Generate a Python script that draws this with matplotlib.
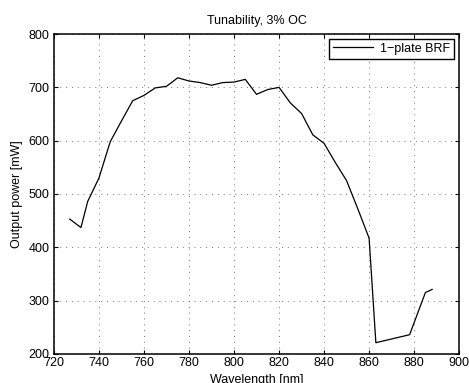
import matplotlib
matplotlib.use("Agg")
import matplotlib.pyplot as plt

plt.rcParams['font.family'] = ['Liberation Sans', 'DejaVu Sans']
plt.rcParams['font.size'] = 9

wavelength = [727, 732, 735, 740, 745, 750, 755, 760, 765, 770, 775, 780, 785,
              790, 795, 800, 805, 810, 815, 820, 825, 830, 835, 840, 845, 850,
              855, 860, 863, 878, 885, 888]
power = [453, 437, 486, 530, 598, 637, 675, 685, 699, 702, 718, 712, 709,
         704, 709, 710, 715, 687, 696, 700, 671, 651, 611, 595, 559, 525,
         472, 417, 221, 236, 315, 321]

xticks = [720, 740, 760, 780, 800, 820, 840, 860, 880, 900]
yticks = [200, 300, 400, 500, 600, 700, 800]

fig = plt.figure(figsize=(4.69, 3.83), dpi=100)
ax = fig.add_axes([0.115, 0.076, 0.864, 0.835])
ax.plot(wavelength, power, color='black', lw=0.9, label='1\u2212plate BRF')

ax.set_xlim(720, 900)
ax.set_ylim(200, 800)
ax.set_xticks(xticks)
ax.set_yticks(yticks)
ax.tick_params(direction='in', top=True, right=True, length=3, width=0.8,
               labelsize=9)
ax.tick_params(axis='x', pad=2)
ax.tick_params(axis='y', pad=3)
ax.grid(True, linestyle=(0, (1, 5)), color='#777777', linewidth=0.7)
for s in ax.spines.values():
    s.set_linewidth(1.1)

ax.set_title('Tunability, 3% OC', fontsize=9, pad=7)
ax.set_xlabel('Wavelength [nm]', fontsize=9, labelpad=4)
ax.set_ylabel('Output power [mW]', fontsize=9, labelpad=4)

leg = ax.legend(loc='upper right', fancybox=False, edgecolor='black',
                framealpha=1, fontsize=9, handlelength=3.2,
                borderaxespad=0.4, borderpad=0.3, handletextpad=0.6)
leg.get_frame().set_linewidth(1.0)

fig.savefig('out.png', dpi=100)
